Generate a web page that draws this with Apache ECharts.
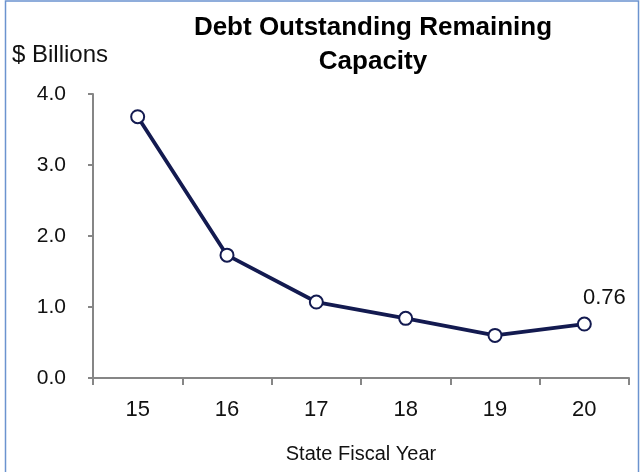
<!DOCTYPE html>
<html>
<head>
<meta charset="utf-8">
<script src="https://cdn.jsdelivr.net/npm/echarts@6/dist/echarts.min.js"></script>
<style>
  html, body { margin: 0; padding: 0; background: #ffffff; }
  #chart { width: 643px; height: 472px; }
</style>
</head>
<body>
<div id="chart"></div>
<script>
// Fiscal years (two-digit) and remaining debt capacity, $ billions
const years = ['15', '16', '17', '18', '19', '20'];
const capacity = [3.68, 1.73, 1.07, 0.84, 0.60, 0.76];
const yTicks = { min: 0, max: 4, interval: 1 };
const labelledIndex = 5; // only the latest year carries a value label

const font = '"Liberation Sans", Arial, sans-serif';
const navy = '#131a50';
const axisGrey = '#868686';

const chart = echarts.init(document.getElementById('chart'), null, { renderer: 'canvas' });

chart.setOption({
  animation: false,
  backgroundColor: '#ffffff',
  graphic: [
    {
      type: 'rect',
      shape: { x: 5.5, y: 1, width: 633, height: 490 },
      style: { fill: 'none', stroke: '#6b93cf', lineWidth: 1.5 },
      silent: true
    },
    {
      type: 'text',
      left: 12,
      top: 43,
      style: { text: '$ Billions', font: '24px ' + font, fill: '#111111' }
    }
  ],
  title: {
    text: 'Debt Outstanding Remaining\nCapacity',
    left: 368,
    top: 6,
    textAlign: 'center',
    textStyle: {
      fontFamily: font,
      fontWeight: 'bold',
      fontSize: 26,
      lineHeight: 34,
      color: '#000000'
    }
  },
  grid: { left: 93, right: 14, top: 94, bottom: 94, containLabel: false },
  xAxis: {
    type: 'category',
    data: years,
    boundaryGap: true,
    name: 'State Fiscal Year',
    nameLocation: 'middle',
    nameGap: 66,
    nameTextStyle: { fontFamily: font, fontSize: 20, color: '#111111' },
    axisLine: { lineStyle: { color: axisGrey, width: 2 } },
    axisTick: { show: true, alignWithLabel: false, length: 7, lineStyle: { color: axisGrey, width: 2 } },
    axisLabel: { margin: 21, fontFamily: font, fontSize: 22, color: '#111111' },
    splitLine: { show: false }
  },
  yAxis: {
    type: 'value',
    min: yTicks.min,
    max: yTicks.max,
    interval: yTicks.interval,
    axisLine: { show: true, lineStyle: { color: axisGrey, width: 2 } },
    axisTick: { show: true, length: 5, lineStyle: { color: axisGrey, width: 2 } },
    axisLabel: {
      margin: 27,
      fontFamily: font,
      fontSize: 21,
      color: '#111111',
      formatter: v => v.toFixed(1)
    },
    splitLine: { show: false }
  },
  series: [
    {
      type: 'line',
      data: capacity.map((v, i) => ({
        value: v,
        label: {
          show: i === labelledIndex,
          position: 'top',
          offset: [20, -3],
          formatter: p => p.value.toFixed(2),
          fontFamily: font,
          fontSize: 22,
          color: '#111111'
        }
      })),
      lineStyle: { color: navy, width: 3.8 },
      symbol: 'circle',
      symbolSize: 13,
      itemStyle: { color: '#ffffff', borderColor: navy, borderWidth: 2 },
      z: 3
    }
  ]
});
</script>
</body>
</html>
